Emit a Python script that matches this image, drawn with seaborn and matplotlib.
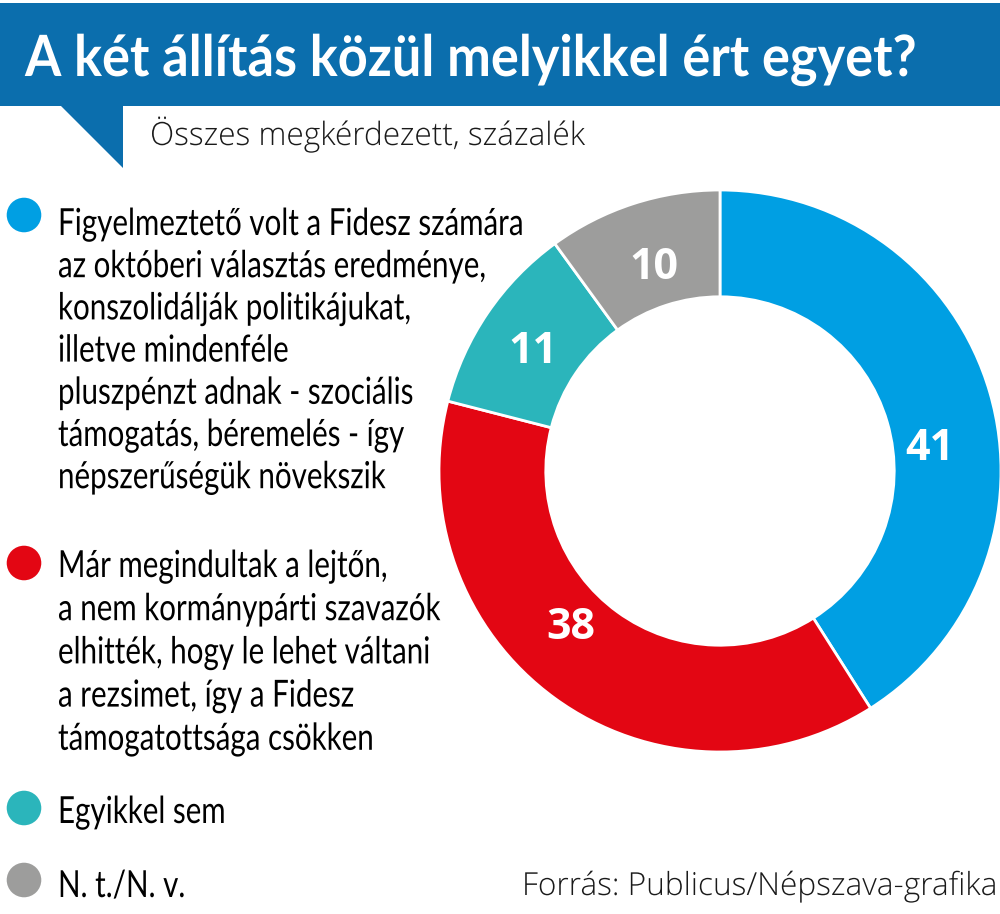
import numpy as np
import matplotlib
matplotlib.use("Agg")
import matplotlib.pyplot as plt
from matplotlib.patches import Polygon, Rectangle
from matplotlib.patheffects import AbstractPathEffect
from matplotlib.text import Text
from matplotlib.transforms import Affine2D, Bbox
import seaborn as sns

# Chart data
categories = ["Figyelmeztető", "Lejtő", "Egyikkel sem", "N. t./N. v."]
values = [41, 38, 11, 10]
value_labels = ["41", "38", "11", "10"]
colors = ["#009fe3", "#e30613", "#2bb5bb", "#9d9d9c"]

legend_texts = [
    ["Figyelmeztető volt a Fidesz számára",
     "az októberi választás eredménye,",
     "konszolidálják politikájukat,",
     "illetve mindenféle",
     "pluszpénzt adnak - szociális",
     "támogatás, béremelés - így",
     "népszerűségük növekszik"],
    ["Már megindultak a lejtőn,",
     "a nem kormánypárti szavazók",
     "elhitték, hogy le lehet váltani",
     "a rezsimet, így a Fidesz",
     "támogatottsága csökken"],
    ["Egyikkel sem"],
    ["N. t./N. v."],
]

title = "A két állítás közül melyikkel ért egyet?"
subtitle = "Összes megkérdezett, százalék"
source = "Forrás: Publicus/Népszava-grafika"

sns.set_theme(style="white")
plt.rcParams["font.family"] = ["Lato", "DejaVu Sans"]


class Squeeze(AbstractPathEffect):
    """draw the text path narrower (horizontal scale around its left edge)"""

    def __init__(self, sx=1.0):
        super().__init__()
        self.sx = sx

    def draw_path(self, renderer, gc, tpath, affine, rgbFace=None):
        x0, _ = affine.transform((0, 0))
        aff = affine + Affine2D().translate(-x0, 0).scale(self.sx, 1).translate(x0, 0)
        renderer.draw_path(gc, tpath, aff, rgbFace)


class NarrowText(Text):
    """left-aligned text drawn condensed; its extent matches what is drawn"""
    sx = 1.0

    def full_extent(self, renderer=None):
        return super().get_window_extent(renderer)

    def get_window_extent(self, renderer=None, dpi=None):
        bb = super().get_window_extent(renderer, dpi)
        return Bbox([[bb.x0, bb.y0], [bb.x0 + bb.width * self.sx, bb.y1]])

    def set_sx(self, sx):
        self.sx = sx
        self.set_path_effects([Squeeze(sx)])


W, H = 1000, 914
fig = plt.figure(figsize=(W / 100, H / 100), dpi=100)
fig.patch.set_facecolor("white")

# overlay axes in pixel coordinates (y down)
ov = fig.add_axes([0, 0, 1, 1], zorder=0)
ov.set_xlim(0, W)
ov.set_ylim(H, 0)
ov.axis("off")


def narrow_text(x, y, s, **kw):
    t = NarrowText(x, y, s, ha="left", va="baseline", **kw)
    t.set_transform(ov.transData)
    t.set_clip_on(False)
    ov.add_artist(t)
    return t


# title banner with speech-bubble tail
banner_col = "#0b6ead"
ov.add_patch(Rectangle((0, 3), W, 103, facecolor=banner_col, edgecolor="none"))
ov.add_patch(Polygon([(60, 105), (123, 105), (123, 168)], closed=True,
                     facecolor=banner_col, edgecolor="none"))

px = 0.72  # pt per pixel at 100 dpi
cap = 0.717  # cap height of Lato / em

t_title = narrow_text(25, 76, title, color="white", fontsize=42 / cap * px,
                      fontweight="bold", family=["Lato", "DejaVu Sans"])
t_sub = narrow_text(150, 145, subtitle, color="#1a1a1a", fontsize=23 / cap * px,
                    fontweight="light", family=["Open Sans", "Lato", "DejaVu Sans"])
t_src = narrow_text(522, 895, source, color="#1a1a1a", fontsize=23 / cap * px,
                    fontweight="light", family=["Open Sans", "Lato", "DejaVu Sans"])

# legend dots drawn with seaborn
dot_y = [215, 563, 808, 880]
sns.scatterplot(x=[24] * 4, y=dot_y, hue=categories, palette=colors,
                s=620, edgecolor="none", legend=False, ax=ov)

block_base = [235, 577, 823, 897]
block_step = [42.2, 43.2, 0, 0]
legend_objs = []
for lines, y0, step in zip(legend_texts, block_base, block_step):
    for i, line in enumerate(lines):
        legend_objs.append(narrow_text(58, y0 + i * step, line, color="black",
                                       fontsize=30 / cap * px))

# donut chart
cx, cy, r = 720, 471, 281
ax = fig.add_axes([(cx - r) / W, (H - cy - r) / H, 2 * r / W, 2 * r / H], zorder=1)
ax.patch.set_alpha(0)
wedges, _ = ax.pie(values, colors=colors, startangle=90, counterclock=False, radius=1,
                   wedgeprops=dict(width=0.38, edgecolor="white", linewidth=2))
ax.set_xlim(-1, 1)
ax.set_ylim(-1, 1)
ax.set_aspect("equal")
ax.axis("off")

label_shift = [-10, -7.5, 1.5, 0]
label_r = [0.75, 0.77, 0.79, 0.76]
num_texts = []
for w, lab, sh, rr in zip(wedges, value_labels, label_shift, label_r):
    ang = np.deg2rad((w.theta1 + w.theta2) / 2 + sh)
    num_texts.append(ax.text(rr * np.cos(ang), rr * np.sin(ang), lab, color="white",
                             fontsize=31, fontweight="bold",
                             family=["Open Sans", "DejaVu Sans"],
                             ha="center", va="center"))

# condense texts to the reference widths, but keep their natural extent clear of
# the figure edge and the number labels
fig.canvas.draw()
rend = fig.canvas.get_renderer()
num_bbs = [t.get_window_extent(rend) for t in num_texts]


def room(t, right_limit):
    bb = t.full_extent(rend)
    allowed = right_limit - bb.x0
    for nb in num_bbs:
        if bb.y0 < nb.y1 and bb.y1 > nb.y0:
            allowed = min(allowed, nb.x0 - 4 - bb.x0)
    return allowed / bb.width


def fit(texts, target, right_limit=996):
    scale = min([1.0] + [room(t, right_limit) for t in texts])
    for t in texts:
        t.set_fontsize(t.get_fontsize() * scale)
    fig.canvas.draw()
    sx = target / texts[0].full_extent(rend).width
    for t in texts:
        t.set_sx(sx)


fit([t_title], 893)
fit([t_sub], 435)
fit([t_src], 476, right_limit=999)
fit(legend_objs, 465)

fig.savefig("out.png", dpi=100)
